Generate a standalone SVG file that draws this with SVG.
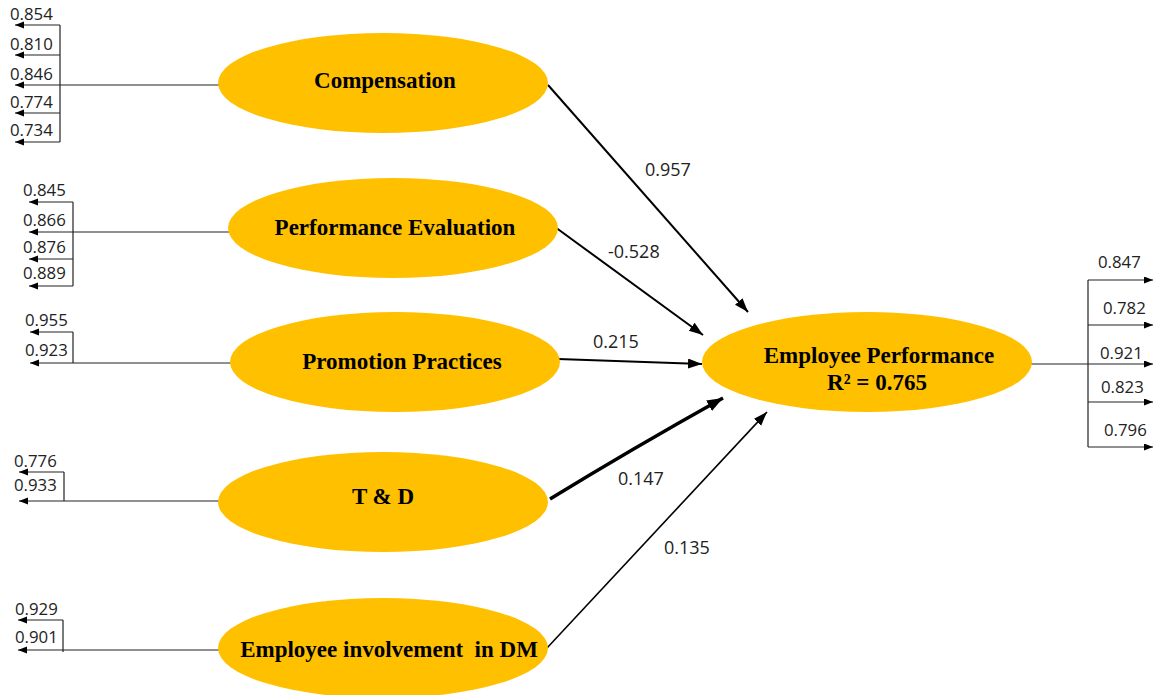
<svg xmlns="http://www.w3.org/2000/svg" width="1155" height="695" viewBox="0 0 1155 695">
  <defs>
    <style>
      .node { fill: #FFC000; }
      .name { font-family: "Liberation Serif", "Times New Roman", serif; font-weight: bold; font-size: 23px; fill: #000; text-anchor: middle; }
      .load { font-family: "Open Sans", "Liberation Sans", sans-serif; font-size: 16.8px; fill: #222; }
      .coef { font-family: "Open Sans", "Liberation Sans", sans-serif; font-size: 18px; fill: #222; }
      .ind { stroke: #222; stroke-width: 1.2; fill: none; }
      .path { stroke: #000; fill: none; }
    </style>
    <marker id="small" markerUnits="userSpaceOnUse" markerWidth="10" markerHeight="8" refX="9" refY="3.5" orient="auto">
      <path d="M0,0 L9,3.5 L0,7 z" fill="#000"/>
    </marker>
    <marker id="big" markerUnits="userSpaceOnUse" markerWidth="16" markerHeight="12" refX="14" refY="5" orient="auto">
      <path d="M0,0 L14,5 L0,10 z" fill="#000"/>
    </marker>
    <marker id="bigger" markerUnits="userSpaceOnUse" markerWidth="18" markerHeight="14" refX="16" refY="6" orient="auto">
      <path d="M0,0 L16,6 L0,12 z" fill="#000"/>
    </marker>
  </defs>
  <rect width="1155" height="695" fill="#fff"/>

  <!-- indicator loadings and structural paths -->
  <g id="connectors">
    <!-- Compensation indicators -->
    <path class="ind" d="M220,85 H15" marker-end="url(#small)"/>
    <path class="ind" d="M60,25 V142"/>
    <path class="ind" d="M60,25 H15" marker-end="url(#small)"/>
    <path class="ind" d="M60,55 H15" marker-end="url(#small)"/>
    <path class="ind" d="M60,113 H15" marker-end="url(#small)"/>
    <path class="ind" d="M60,142 H15" marker-end="url(#small)"/>
    <!-- Performance Evaluation indicators -->
    <path class="ind" d="M232,232 H29" marker-end="url(#small)"/>
    <path class="ind" d="M73,202 V286"/>
    <path class="ind" d="M73,202 H29" marker-end="url(#small)"/>
    <path class="ind" d="M73,259 H29" marker-end="url(#small)"/>
    <path class="ind" d="M73,286 H29" marker-end="url(#small)"/>
    <!-- Promotion Practices indicators -->
    <path class="ind" d="M233,363 H30" marker-end="url(#small)"/>
    <path class="ind" d="M73,332 V363"/>
    <path class="ind" d="M73,332 H30" marker-end="url(#small)"/>
    <!-- T & D indicators -->
    <path class="ind" d="M220,501 H19" marker-end="url(#small)"/>
    <path class="ind" d="M64,472 V501"/>
    <path class="ind" d="M64,472 H19" marker-end="url(#small)"/>
    <!-- Employee involvement indicators -->
    <path class="ind" d="M220,650 H18" marker-end="url(#small)"/>
    <path class="ind" d="M63,620 V652"/>
    <path class="ind" d="M63,620 H18" marker-end="url(#small)"/>
    <!-- Employee Performance indicators -->
    <path class="ind" d="M1030,364 H1153" marker-end="url(#small)"/>
    <path class="ind" d="M1088,280 V447"/>
    <path class="ind" d="M1088,280 H1153" marker-end="url(#small)"/>
    <path class="ind" d="M1088,325 H1153" marker-end="url(#small)"/>
    <path class="ind" d="M1088,402 H1153" marker-end="url(#small)"/>
    <path class="ind" d="M1088,447 H1153" marker-end="url(#small)"/>

    <!-- structural paths -->
    <path class="path" stroke-width="2" d="M548,85 L748,312" marker-end="url(#big)"/>
    <path class="path" stroke-width="2" d="M555,227 L703,335" marker-end="url(#big)"/>
    <path class="path" stroke-width="2.2" d="M558,359 L702,364" marker-end="url(#big)"/>
    <path class="path" stroke-width="3.5" d="M550,499 Q630,450 723,398" marker-end="url(#bigger)"/>
    <path class="path" stroke-width="1.6" d="M547,648 L767,412" marker-end="url(#big)"/>
  </g>

  <g id="compensation">
    <ellipse class="node" cx="383" cy="83" rx="165" ry="50"/>
    <text class="name" x="385" y="88">Compensation</text>
  </g>
  <g id="performance-evaluation">
    <ellipse class="node" cx="393" cy="228" rx="165" ry="50"/>
    <text class="name" x="395" y="235">Performance Evaluation</text>
  </g>
  <g id="promotion-practices">
    <ellipse class="node" cx="395" cy="362" rx="165" ry="50"/>
    <text class="name" x="402" y="369">Promotion Practices</text>
  </g>
  <g id="t-and-d">
    <ellipse class="node" cx="383" cy="502" rx="165" ry="50"/>
    <text class="name" x="383" y="504">T &amp; D</text>
  </g>
  <g id="employee-involvement">
    <ellipse class="node" cx="383" cy="648" rx="165" ry="50"/>
    <text class="name" x="389" y="657">Employee involvement&#160; in DM</text>
  </g>
  <g id="employee-performance">
    <ellipse class="node" cx="867" cy="362" rx="165" ry="50"/>
    <text class="name" x="879" y="363">Employee Performance</text>
    <text class="name" x="877" y="390">R² = 0.765</text>
  </g>

  <!-- outer loadings -->
  <g id="loadings">
    <text class="load" x="10" y="20">0.854</text>
    <text class="load" x="10" y="50">0.810</text>
    <text class="load" x="10" y="80">0.846</text>
    <text class="load" x="10" y="108">0.774</text>
    <text class="load" x="10" y="136">0.734</text>
    <text class="load" x="23" y="196">0.845</text>
    <text class="load" x="23" y="226">0.866</text>
    <text class="load" x="23" y="253">0.876</text>
    <text class="load" x="23" y="279">0.889</text>
    <text class="load" x="25" y="326">0.955</text>
    <text class="load" x="25" y="356">0.923</text>
    <text class="load" x="14" y="467">0.776</text>
    <text class="load" x="14" y="491">0.933</text>
    <text class="load" x="15" y="615">0.929</text>
    <text class="load" x="15" y="643">0.901</text>
    <text class="load" x="1098" y="268">0.847</text>
    <text class="load" x="1103" y="314">0.782</text>
    <text class="load" x="1100" y="359">0.921</text>
    <text class="load" x="1101" y="393">0.823</text>
    <text class="load" x="1104" y="436">0.796</text>
  </g>

  <!-- path coefficients -->
  <g id="coefficients">
    <text class="coef" x="645" y="176">0.957</text>
    <text class="coef" x="608" y="258">-0.528</text>
    <text class="coef" x="593" y="348">0.215</text>
    <text class="coef" x="618" y="485">0.147</text>
    <text class="coef" x="664" y="554">0.135</text>
  </g>
</svg>
